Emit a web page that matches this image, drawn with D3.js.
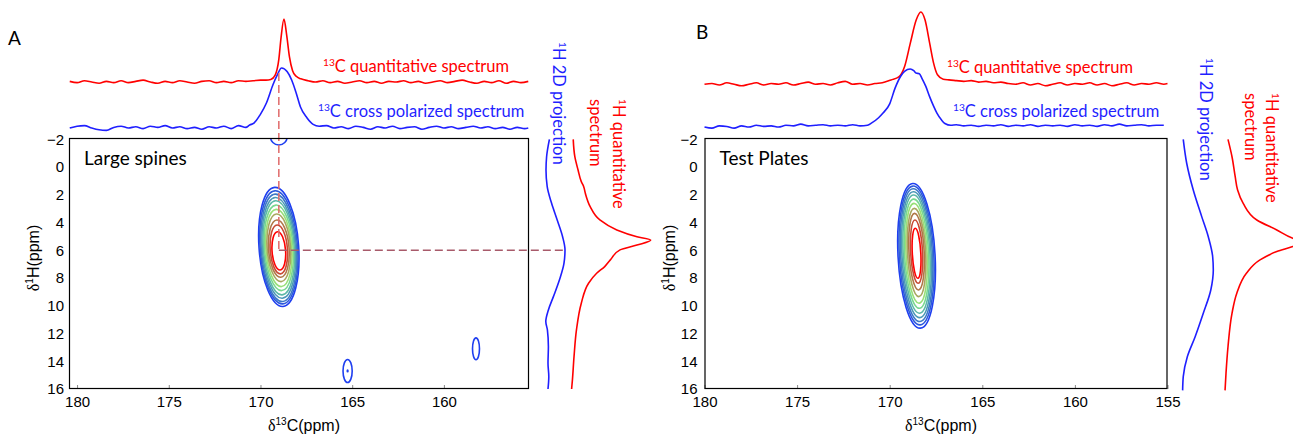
<!DOCTYPE html>
<html>
<head>
<meta charset="utf-8">
<title>13C-1H correlation spectra</title>
<script src="https://cdn.jsdelivr.net/npm/d3@7"></script>
<style>
  body { margin: 0; background: #fff; }
  svg { display: block; }
  .tick text { font-family: "Liberation Sans", Arial, sans-serif; font-size: 15px; fill: #000; }
  .tick line { stroke: #888; }
  .lbl { font-family: Lato, "Open Sans", sans-serif; }
  .ax { font-family: "Liberation Sans", Arial, sans-serif; }
</style>
</head>
<body>
<svg id="chart" width="1293" height="436"></svg>
<script>
// tick values
var hTicks = [-2, 0, 2, 4, 6, 8, 10, 12, 14, 16];
var cTicksA = [180, 175, 170, 165, 160];
var cTicksB = [180, 175, 170, 165, 160, 155];

// 13C spectra, [ppm, intensity] (peak = 100)
var quantA = [[180.4,1],[180.0,-1],[179.6,2],[179.2,0],[178.8,-2],[178.4,1],[178.0,-1],[177.6,2],[177.2,-1],[176.8,1],[176.4,3],[176.0,0],[175.6,-2],[175.2,1],[174.8,-1],[174.4,2],[174.0,0],[173.6,-2],[173.2,1],[172.8,2],[172.4,-1],[172.0,1],[171.6,-1],[171.2,2],[170.8,1],[170.4,2],[170.0,3],[169.7,3],[169.44,4],[169.2,11],[169.0,36],[168.88,70],[168.72,100],[168.57,74],[168.42,40],[168.25,18],[168.05,9],[167.8,5],[167.4,2],[167.0,0],[166.6,2],[166.2,-1],[165.8,1],[165.4,-2],[165.0,0],[164.6,2],[164.2,-1],[163.8,1],[163.4,-2],[163.0,1],[162.6,0],[162.2,2],[161.8,-1],[161.4,1],[161.0,-2],[160.6,0],[160.2,2],[159.8,-1],[159.4,1],[159.0,3],[158.6,0],[158.2,-2],[157.8,1],[157.4,-1],[157.0,2],[156.6,-2],[156.2,1],[155.8,-1],[155.4,1]];
var crossA = [[180.4,0],[180.0,3],[179.6,4],[179.2,0],[178.8,-3],[178.4,-4],[178.0,1],[177.6,3],[177.2,0],[176.8,2],[176.4,-1],[176.0,3],[175.6,1],[175.2,4],[174.8,0],[174.4,2],[174.0,-1],[173.6,1],[173.2,-2],[172.8,2],[172.4,0],[172.0,3],[171.6,-1],[171.2,4],[170.8,1],[170.59,5],[170.36,8],[170.02,22],[169.67,42],[169.32,72],[169.09,88],[168.85,100],[168.55,94],[168.3,80],[168.05,58],[167.82,35],[167.47,17],[167.13,6],[166.8,3],[166.4,4],[166.0,0],[165.6,2],[165.2,-1],[164.8,3],[164.4,1],[164.0,-2],[163.6,2],[163.2,0],[162.8,3],[162.4,-1],[162.0,1],[161.6,2],[161.2,-2],[160.8,1],[160.4,3],[160.0,0],[159.6,2],[159.2,-1],[158.8,1],[158.4,3],[158.0,0],[157.6,2],[157.2,-1],[156.8,1],[156.4,-2],[156.0,1],[155.6,-1],[155.4,0]];
var quantB = [[180.0,1],[179.6,2],[179.2,0],[178.8,3],[178.4,1],[178.0,-1],[177.6,1],[177.2,3],[176.8,0],[176.4,2],[176.0,1],[175.6,3],[175.2,0],[174.8,2],[174.4,4],[174.0,1],[173.6,2],[173.2,0],[172.8,3],[172.4,5],[172.0,1],[171.6,2],[171.2,0],[170.8,2],[170.4,3],[169.93,7],[169.51,11],[169.2,25],[168.89,57],[168.57,89],[168.32,100],[168.09,89],[167.84,57],[167.63,30],[167.42,14],[167.11,8],[166.8,7],[166.4,6],[166.0,5],[165.6,6],[165.2,4],[164.8,5],[164.4,3],[164.0,4],[163.6,2],[163.2,1],[162.8,3],[162.4,0],[162.0,2],[161.6,-1],[161.2,1],[160.8,3],[160.4,0],[160.0,2],[159.6,1],[159.2,3],[158.8,0],[158.4,2],[158.0,-1],[157.6,1],[157.2,3],[156.8,0],[156.4,2],[156.0,1],[155.6,3],[155.2,1],[155.0,2]];
var crossB = [[180.0,0],[179.6,-2],[179.2,2],[178.8,1],[178.4,-2],[178.0,2],[177.6,0],[177.2,3],[176.8,1],[176.4,2],[176.0,0],[175.6,3],[175.2,2],[174.8,5],[174.4,2],[174.0,3],[173.6,4],[173.2,2],[172.8,3],[172.4,2],[172.0,4],[171.6,2],[171.2,3],[170.97,7],[170.6,16],[170.36,24],[170.0,40],[169.71,67],[169.4,88],[169.2,96],[168.89,100],[168.7,97],[168.58,93],[168.4,92],[168.26,84],[168.05,70],[167.84,52],[167.63,36],[167.45,24],[167.2,12],[167.02,6],[166.7,3],[166.4,4],[166.0,2],[165.6,3],[165.2,1],[164.8,3],[164.4,2],[164.0,4],[163.6,1],[163.2,3],[162.8,2],[162.4,4],[162.0,1],[161.6,3],[161.2,2],[160.8,3],[160.4,1],[160.0,4],[159.6,2],[159.2,3],[158.8,1],[158.4,4],[158.0,2],[157.6,5],[157.2,2],[156.8,3],[156.4,4],[156.0,2],[155.6,3],[155.2,3]];

// 1H projections, [ppm, intensity]
var projA = [[-2,22],[-0.75,8],[0.21,5],[1.41,11],[2.61,33],[3.81,61],[5.02,88],[5.97,100],[6.93,95],[8.14,72],[9.34,42],[10.3,17],[11.14,4],[11.74,12],[12.95,17],[14.14,15],[15.11,19],[16,15]];
var hQuantA = [[-2,4],[-0.75,6],[0.21,10],[1.05,14],[1.41,17],[1.89,19],[2.85,25],[3.81,37],[4.53,58],[5.02,83],[5.26,100],[5.62,83],[5.97,62],[6.69,50],[7.17,43],[7.65,33],[8.37,23],[9.81,14],[11.74,8],[13.66,5],[15.34,3],[16,2]];
var projB = [[-2,4],[-0.28,15],[1.65,36],[3.57,63],[5.02,84],[6.46,98],[7.42,100],[8.86,92],[10.54,68],[12.23,42],[13.67,17],[15.11,4],[16.1,2]];
var hQuantB = [[-2,5],[-0.75,10],[0.69,14],[1.65,17],[2.61,24],[3.81,41],[4.53,66],[5.13,86],[5.4,100],[5.73,86],[6.09,66],[6.69,45],[7.65,28],[9.09,16],[10.54,10],[12.95,5],[14.87,2.5],[16.1,1.3]];

// contour rings, outermost to innermost (ppm extents)
var ringTopA = [1.45, 1.70, 1.94, 2.18, 2.42, 2.73, 3.04, 3.38, 3.81, 4.17, 4.66];
var ringBottomA = [10.06, 9.87, 9.70, 9.46, 9.22, 8.91, 8.62, 8.26, 7.95, 7.70, 7.42];
var ringHalfWidthA = [1.08, 1.02, 0.96, 0.90, 0.84, 0.78, 0.71, 0.64, 0.56, 0.47, 0.37];
var ringTopB = [1.17, 1.36, 1.55, 1.77, 2.01, 2.30, 2.61, 2.97, 3.33, 3.81, 4.41];
var ringBottomB = [11.62, 11.38, 11.14, 10.86, 10.54, 10.18, 9.82, 9.34, 8.86, 8.38, 8.02];
var ringHalfWidthB = [1.0, 0.93, 0.86, 0.79, 0.72, 0.65, 0.57, 0.49, 0.41, 0.32, 0.23];
var ringColors = ['#1f3ff0', '#2c58dc', '#3c78c8', '#4c98b8', '#5cb8a8', '#78d890', '#98e078', '#a8a860', '#b07848', '#c84a34', '#ff0000'];

// small extra peaks in A: [C ppm, H ppm, half width C, half height H]
var spotsA = [[165.25, 14.7, 0.25, 0.83], [165.25, 14.7, 0.02, 0.06], [158.25, 13.1, 0.19, 0.79], [169.0, -2.2, 0.46, 0.6]];

var RED = '#ff0000', BLUE = '#1f1fff';
var svg = d3.select('#chart');
var yTop = 138, yBot = 389;

function supText(g, x, y, sup, rest, color, size, rot) {
    var t = g.append('text').attr('class', 'lbl').attr('fill', color).attr('font-size', size)
        .attr('transform', 'translate(' + x + ',' + y + ')' + (rot ? ' rotate(' + rot + ')' : ''));
    t.append('tspan').attr('font-size', size * 0.62).attr('dy', -size * 0.36).text(sup);
    t.append('tspan').attr('dy', size * 0.36).text(rest);
    return t;
}

function axisTitle(g, x, y, sup, rest, rot) {
    var t = g.append('text').attr('class', 'ax').attr('font-size', 16).attr('text-anchor', 'middle')
        .attr('transform', 'translate(' + x + ',' + y + ')' + (rot ? ' rotate(' + rot + ')' : ''));
    t.append('tspan').attr('font-family', '"Liberation Serif", serif').text('\u03b4');
    t.append('tspan').attr('font-size', 10).attr('dy', -6).text(sup);
    t.append('tspan').attr('dy', 6).text(rest);
}

function drawPanel(p) {
    var x = d3.scaleLinear().domain(p.cDomain).range([p.left, p.right]);
    var y = d3.scaleLinear().domain([-2.1, 16]).range([yTop, yBot]);
    var g = svg.append('g');

    g.append('clipPath').attr('id', 'clip' + p.name)
        .append('rect').attr('x', p.left).attr('y', yTop).attr('width', p.right - p.left).attr('height', yBot - yTop);

    // 13C spectra along the top
    p.top.forEach(function (s) {
        var yi = d3.scaleLinear().domain([0, 100]).range([s.base, s.base - s.height]);
        g.append('path').datum(s.data)
            .attr('fill', 'none').attr('stroke', s.color).attr('stroke-width', 1.6)
            .attr('d', d3.line().x((d) => x(d[0])).y((d) => yi(d[1])).curve(d3.curveMonotoneX));
    });

    // 1H spectra along the right side
    p.side.forEach(function (s) {
        var xi = d3.scaleLinear().domain([0, 100]).range([s.base, s.base + s.height]);
        g.append('path').datum(s.data)
            .attr('fill', 'none').attr('stroke', s.color).attr('stroke-width', 1.6)
            .attr('d', d3.line().x((d) => xi(d[1])).y((d) => y(d[0])).curve(d3.curveMonotoneY));
    });

    // contours
    var cg = g.append('g').attr('clip-path', 'url(#clip' + p.name + ')');
    p.rings.top.forEach(function (t, i) {
        var cx = x(p.rings.centre);
        var cy = y((t + p.rings.bottom[i]) / 2);
        cg.append('ellipse')
            .attr('cx', cx).attr('cy', cy)
            .attr('rx', Math.abs(x(p.rings.centre + p.rings.half[i]) - cx))
            .attr('ry', (y(p.rings.bottom[i]) - y(t)) / 2)
            .attr('transform', 'rotate(' + p.rings.tilt + ',' + cx + ',' + cy + ')')
            .attr('fill', 'none').attr('stroke', ringColors[i]).attr('stroke-width', 1.6);
    });
    (p.spots || []).forEach(function (s) {
        var cx = x(s[0]), cy = y(s[1]);
        cg.append('ellipse').attr('cx', cx).attr('cy', cy)
            .attr('rx', Math.abs(x(s[0] + s[2]) - cx)).attr('ry', y(s[1] + s[3]) - cy)
            .attr('fill', 'none').attr('stroke', ringColors[0]).attr('stroke-width', 1.6);
    });

    // dashed guides
    if (p.guide) {
        var gx = x(p.guide[0]), gy = y(p.guide[1]);
        g.append('line').attr('x1', gx).attr('x2', gx).attr('y1', 73).attr('y2', gy)
            .attr('stroke', '#e06a6a').attr('stroke-width', 1.5).attr('stroke-dasharray', '8,4');
        g.append('line').attr('x1', gx).attr('x2', 563).attr('y1', gy).attr('y2', gy)
            .attr('stroke', '#a85a6a').attr('stroke-width', 1.5).attr('stroke-dasharray', '8,4');
    }

    // axes
    var xAxis = d3.axisBottom(x).tickValues(p.cTicks).tickSizeInner(-4).tickSizeOuter(0).tickPadding(7);
    g.append('g').attr('transform', 'translate(0,' + yBot + ')').call(xAxis).call((a) => a.select('.domain').remove());
    var yAxis = d3.axisLeft(y).tickValues(hTicks).tickSizeInner(0).tickSizeOuter(0).tickPadding(p.yPad);
    g.append('g').attr('transform', 'translate(' + p.left + ',0)').call(yAxis).call((a) => a.select('.domain').remove());

    g.append('rect').attr('x', p.left + 0.5).attr('y', yTop + 0.5)
        .attr('width', p.right - p.left - 1).attr('height', yBot - yTop - 1)
        .attr('fill', 'none').attr('stroke', '#000').attr('stroke-width', 1.2);

    axisTitle(g, (p.left + p.right) / 2 + 5, 431, '13', 'C(ppm)');
    axisTitle(g, p.left - 30, 258, '1', 'H(ppm)', -90);

    // labels
    g.append('text').attr('class', 'lbl').attr('x', p.letterX).attr('y', p.letterY).attr('font-size', 19).text(p.name);
    g.append('text').attr('class', 'lbl').attr('x', p.left + 15).attr('y', 165).attr('font-size', 19).text(p.sample);
    supText(g, p.quantLabel[0], p.quantLabel[1], '13', 'C quantitative spectrum', RED, 16.5);
    supText(g, p.crossLabel[0], p.crossLabel[1], '13', 'C cross polarized spectrum', BLUE, 16.5);
    supText(g, p.projLabel[0], p.projLabel[1], '1', 'H 2D projection', BLUE, 16.5, 90);
    supText(g, p.hLabel[0], p.hLabel[1], '1', 'H quantitative', RED, 16.5, 90);
    g.append('text').attr('class', 'lbl').attr('fill', RED).attr('font-size', 16.5)
        .attr('transform', 'translate(' + p.hLabel2[0] + ',' + p.hLabel2[1] + ') rotate(90)').text('spectrum');
}

drawPanel({
    name: 'A', sample: 'Large spines', left: 69, right: 529, cDomain: [180.44, 155.36], cTicks: cTicksA, yPad: 5,
    letterX: 8, letterY: 45,
    top: [{ data: quantA, color: RED, base: 82, height: 63 }, { data: crossA, color: BLUE, base: 128, height: 60 }],
    side: [{ data: projA, color: BLUE, base: 545, height: 20 }, { data: hQuantA, color: RED, base: 570, height: 80.7 }],
    rings: { top: ringTopA, bottom: ringBottomA, half: ringHalfWidthA, centre: 169.0, tilt: -4 },
    spots: spotsA, guide: [169.0, 6.0],
    quantLabel: [323, 72], crossLabel: [318, 117], projLabel: [553, 42], hLabel: [613, 99], hLabel2: [590, 99]
});

drawPanel({
    name: 'B', sample: 'Test Plates', left: 704.5, right: 1167.5, cDomain: [180, 155], cTicks: cTicksB, yPad: 7,
    letterX: 696, letterY: 39,
    top: [{ data: quantB, color: RED, base: 85, height: 73 }, { data: crossB, color: BLUE, base: 127, height: 58 }],
    side: [{ data: projB, color: BLUE, base: 1182, height: 31.3 }, { data: hQuantB, color: RED, base: 1224, height: 80 }],
    rings: { top: ringTopB, bottom: ringBottomB, half: ringHalfWidthB, centre: 168.55, tilt: -3 },
    quantLabel: [947, 73], crossLabel: [953, 117], projLabel: [1200, 58], hLabel: [1266, 93], hLabel2: [1245, 93]
});
</script>
</body>
</html>
